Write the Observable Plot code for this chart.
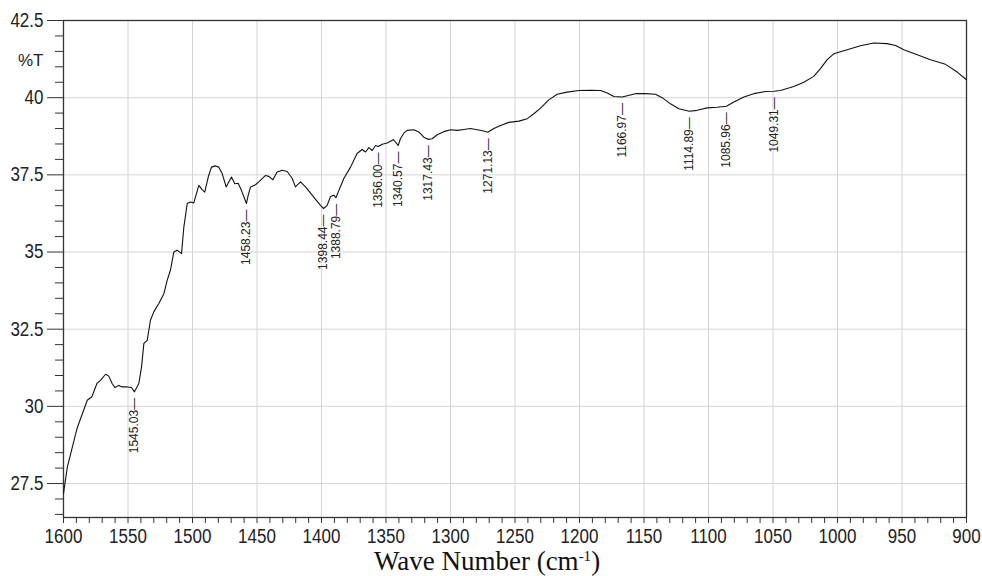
<!DOCTYPE html>
<html><head><meta charset="utf-8">
<script src="https://cdn.jsdelivr.net/npm/d3@7"></script>
<script src="https://cdn.jsdelivr.net/npm/@observablehq/plot@0.6"></script>
<style>
body{margin:0;background:#fff;}
#wrap{position:relative;width:982px;height:576px;overflow:hidden;background:#fff;}
#xlabel{position:absolute;left:0;width:974px;top:550px;text-align:center;font-family:"Liberation Serif","Times New Roman",serif;font-size:27px;line-height:22px;color:#111;white-space:nowrap;}
#xlabel sup{font-size:15px;line-height:0;vertical-align:9px;}
</style></head>
<body><div id="wrap"><div id="chart"></div><div id="xlabel">Wave Number (cm<sup>-1</sup>)</div></div>
<script>
// Spectrum
const wavenumber = [1600,1597,1589.4,1581.6,1578,1574,1571.3,1567.4,1564.9,1562.3,1560.2,1557.1,1554.5,1550.6,1547.3,1545.0,1541.6,1539.5,1537.7,1535.1,1532.6,1530.0,1526.1,1522.2,1519.6,1517.1,1514.5,1511.9,1508.5,1506.7,1504.1,1501.6,1499.0,1495.1,1492.5,1490.5,1487.8,1485.3,1482.2,1479.6,1477.0,1473.9,1471.9,1469.8,1467.2,1464.6,1462.0,1458.2,1456.8,1455.0,1451.2,1448.6,1443.4,1440.8,1437.7,1434.4,1430.5,1426.6,1422.7,1420.2,1416.3,1412.4,1406.0,1400.8,1398.4,1395.6,1393.0,1390.5,1388.8,1386.6,1382.7,1377.5,1372.4,1368.5,1365.9,1363.3,1360.7,1358.1,1356.0,1352.9,1349.1,1344.4,1342.6,1340.6,1338.8,1336.2,1333.6,1328.4,1324.6,1320.7,1317.4,1314.2,1310.3,1305.2,1300.0,1294.8,1289.7,1284.5,1279.3,1274.2,1271.1,1266.4,1261.2,1254.8,1247.0,1240.5,1235.4,1230.2,1223.8,1217.3,1209.6,1200.5,1191.5,1183.7,1178.5,1173.4,1167.0,1163.0,1156.6,1148.8,1141.1,1135.9,1129.5,1123.0,1114.9,1108.8,1101.0,1093.3,1086.0,1080.4,1072.6,1064.9,1055.8,1049.3,1044.2,1033.9,1026.1,1018.4,1013.2,1008.0,1002.9,992.5,982.2,971.9,961.5,955.0,948.6,938.2,927.9,916.3,907.2,900];
const transmittance = [27.18,28.04,29.3,30.2,30.31,30.75,30.84,31.04,30.98,30.74,30.61,30.68,30.63,30.63,30.61,30.47,30.74,31.28,32.04,32.14,32.79,33.06,33.33,33.65,34.09,34.41,35.0,35.06,34.95,35.81,36.57,36.62,36.59,37.16,37.02,36.94,37.43,37.75,37.79,37.75,37.54,37.11,37.27,37.43,37.21,37.23,36.99,36.57,36.84,37.11,37.18,37.27,37.48,37.45,37.34,37.59,37.65,37.61,37.38,37.11,37.27,37.11,36.78,36.51,36.41,36.51,36.80,36.84,36.76,36.99,37.38,37.75,38.19,38.32,38.24,38.38,38.29,38.45,38.42,38.49,38.53,38.64,38.56,38.45,38.67,38.85,38.94,38.96,38.89,38.72,38.65,38.67,38.80,38.90,38.96,38.94,38.97,39.0,38.96,38.92,38.88,39.0,39.10,39.20,39.24,39.32,39.48,39.66,39.93,40.11,40.18,40.23,40.24,40.23,40.15,40.04,40.02,40.06,40.13,40.13,40.11,40.0,39.80,39.64,39.56,39.59,39.67,39.69,39.72,39.86,40.02,40.13,40.20,40.21,40.23,40.36,40.50,40.69,40.94,41.23,41.42,41.55,41.68,41.77,41.75,41.69,41.55,41.39,41.23,41.08,40.83,40.58];

// Peak annotations
const peakWn = [1545.03,1458.23,1398.44,1388.79,1356.00,1340.57,1317.43,1271.13,1166.97,1114.89,1085.96,1049.31];
const peakT = [30.47,36.57,36.41,36.76,38.42,38.45,38.65,38.88,40.02,39.56,39.72,40.21];
const peakLabel = ["1545.03","1458.23","1398.44","1388.79","1356.00","1340.57","1317.43","1271.13","1166.97","1114.89","1085.96","1049.31"];

// Axis ticks
const xTicks = [1600,1550,1500,1450,1400,1350,1300,1250,1200,1150,1100,1050,1000,950,900];
const yTicks = [27.5,30,32.5,35,37.5,40,42.5];
const yTickLabels = ["27.5","30","32.5","35","37.5","40","42.5"];
const xMinor = d3.range(1590, 900, -10).filter(v => v % 50 !== 0);
const yMinor = d3.range(26.5, 42.5, 0.5).filter(v => Math.abs((v / 2.5) - Math.round(v / 2.5)) > 1e-6);

const spectrum = wavenumber.map((w, i) => ({wn: w, t: transmittance[i]}));
const peaks = peakWn.map((w, i) => ({wn: w, t: peakT[i], label: peakLabel[i]}));

const tickFont = '"Liberation Sans",Arial,sans-serif';

const chart = Plot.plot({
  width: 982, height: 576,
  marginLeft: 63, marginRight: 16, marginTop: 20, marginBottom: 59,
  style: {fontFamily: tickFont, fontSize: "17px", color: "#222", background: "white", overflow: "visible"},
  x: {domain: [1600, 900]},
  y: {domain: [26.4, 42.5]},
  marks: [
    Plot.gridX(xTicks, {stroke: "#d4d4d4", strokeOpacity: 1, strokeWidth: 1}),
    Plot.gridY(yTicks, {stroke: "#d4d4d4", strokeOpacity: 1, strokeWidth: 1}),
    Plot.axisX(xMinor, {tickSize: 6, tickFormat: () => "", label: null, stroke: "#333"}),
    Plot.axisX(xTicks, {tickSize: 6, tickPadding: 5, tickFormat: d => String(d), label: null, stroke: "#333", fontSize: 17}),
    Plot.axisY(yMinor, {tickSize: 8, tickFormat: () => "", label: null, stroke: "#333"}),
    Plot.axisY(yTicks, {tickSize: 16, tickPadding: 4, tickFormat: d => yTickLabels[yTicks.indexOf(d)], label: null, stroke: "#333", fontSize: 17}),
    Plot.frame({stroke: "#333", strokeWidth: 1.3}),
    Plot.text(["%T"], {frameAnchor: "left", y: [41.2], text: d => d, dx: -20, textAnchor: "end", fontSize: 17, fill: "#222", ariaLabel: "percent-t"}),
    Plot.line(spectrum, {x: "wn", y: "t", stroke: "#111", strokeWidth: 1.1}),
    Plot.text(peaks, {x: "wn", y: "t", text: d => d.label + "\u2014", rotate: -90, textAnchor: "end", dy: 6, fontSize: 12, fontFamily: '"Liberation Sans",Arial,sans-serif', fill: "#222"})
  ]
});
// stretch axis tick labels vertically like the instrument printout
chart.querySelectorAll('g[aria-label="x-axis tick label"] text, g[aria-label="y-axis tick label"] text, g[aria-label="percent-t"] text').forEach(t => {
  const tr = t.getAttribute("transform");
  if (tr) t.setAttribute("transform", tr + " scale(1,1.18)");
});
document.getElementById("chart").appendChild(chart);
</script>
</body></html>
